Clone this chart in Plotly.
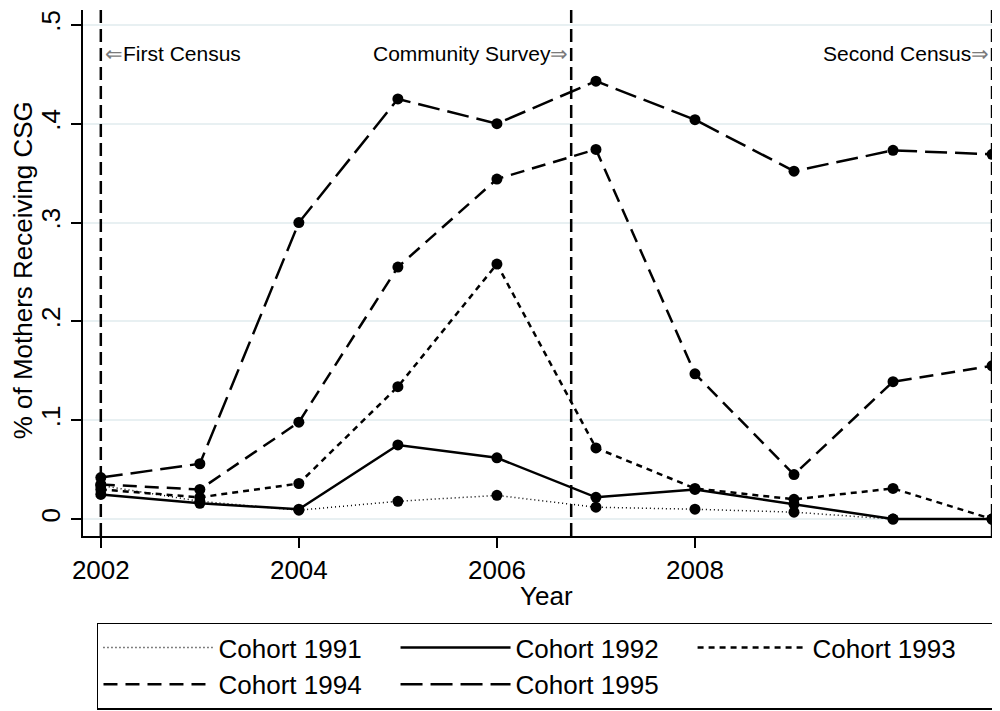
import plotly.graph_objects as go

years = [2002, 2003, 2004, 2005, 2006, 2007, 2008, 2009, 2010, 2011]
cohort_1991 = [0.034, 0.018, 0.009, 0.018, 0.024, 0.012, 0.010, 0.007, 0.0, 0.0]
cohort_1992 = [0.025, 0.016, 0.010, 0.075, 0.062, 0.022, 0.030, 0.015, 0.0, 0.0]
cohort_1993 = [0.030, 0.022, 0.036, 0.134, 0.258, 0.072, 0.031, 0.020, 0.031, 0.0]
cohort_1994 = [0.035, 0.030, 0.098, 0.255, 0.344, 0.374, 0.147, 0.045, 0.139, 0.155]
cohort_1995 = [0.042, 0.056, 0.300, 0.425, 0.400, 0.443, 0.404, 0.352, 0.373, 0.369]

series = [
    ("Cohort 1991", cohort_1991, "1px,3px", 1.5),
    ("Cohort 1992", cohort_1992, "solid", 2.5),
    ("Cohort 1993", cohort_1993, "6px,5px", 2.5),
    ("Cohort 1994", cohort_1994, "14px,8px", 2.5),
    ("Cohort 1995", cohort_1995, "22px,8px", 2.5),
]

event_x = [2002, 2006.75, 2011]
ytick_vals = [0, 0.1, 0.2, 0.3, 0.4, 0.5]
ytick_text = ["0", ".1", ".2", ".3", ".4", ".5"]
xtick_vals = [2002, 2004, 2006, 2008]

FONT = "Liberation Sans, Arial, sans-serif"

fig = go.Figure()
for name, vals, dash, w in series:
    fig.add_trace(go.Scatter(
        x=years, y=vals, mode="lines", name=name, legendgroup=name,
        line=dict(color="black", width=w, dash=dash),
    ))
for name, vals, dash, w in series:
    fig.add_trace(go.Scatter(
        x=years, y=vals, mode="markers", name=name, legendgroup=name,
        showlegend=False, marker=dict(color="black", size=11),
    ))

for xv in event_x:
    fig.add_shape(type="line", xref="x", yref="paper", x0=xv, x1=xv, y0=0.0, y1=1.0,
                  line=dict(color="black", width=2.5, dash="13px,6px"), layer="above")

arrow = "<span style='color:#7a7a7a'>{}</span>"
fig.add_annotation(x=2002, y=0.917, xref="x", yref="paper", xanchor="left", yanchor="middle",
                   text=arrow.format("⇐") + "First Census", showarrow=False, xshift=2,
                   font=dict(family=FONT, size=21, color="black"))
fig.add_annotation(x=2006.75, y=0.917, xref="x", yref="paper", xanchor="right", yanchor="middle",
                   text="Community Survey" + arrow.format("⇒"), showarrow=False, xshift=-1,
                   font=dict(family=FONT, size=21, color="black"))
fig.add_annotation(x=2011, y=0.917, xref="x", yref="paper", xanchor="right", yanchor="middle",
                   text="Second Census" + arrow.format("⇒"), showarrow=False, xshift=-1,
                   font=dict(family=FONT, size=21, color="black"))
fig.add_annotation(x=0.507, y=-0.115, xref="paper", yref="paper", xanchor="center", yanchor="middle",
                   text="Year", showarrow=False, font=dict(family=FONT, size=26, color="black"))
fig.add_annotation(x=0, y=0.505, xref="paper", yref="paper", xanchor="center", yanchor="middle",
                   xshift=-60, textangle=-90, text="% of Mothers Receiving CSG", showarrow=False,
                   font=dict(family=FONT, size=26, color="black"))

fig.update_layout(
    width=992, height=703,
    margin=dict(l=75, r=3, t=2, b=172),
    paper_bgcolor="white", plot_bgcolor="white",
    font=dict(family=FONT, size=26, color="black"),
    xaxis=dict(range=[2001.82, 2011.05], tickvals=xtick_vals, showgrid=False, zeroline=False,
               showline=True, linecolor="black", linewidth=2, ticks="outside", ticklen=10,
               tickwidth=2, tickcolor="black", tickfont=dict(size=26), automargin=False,
               ticklabeloverflow="allow"),
    yaxis=dict(range=[-0.0171, 0.515], tickvals=ytick_vals, ticktext=ytick_text, tickangle=-90,
               showgrid=True, gridcolor="#e8f0f2", gridwidth=2, zeroline=False,
               showline=True, linecolor="black", linewidth=2, ticks="outside", ticklen=10,
               tickwidth=2, tickcolor="black", tickfont=dict(size=26), automargin=False,
               ticklabeloverflow="allow", ticklabelstandoff=1),
    legend=dict(orientation="h", x=0.0153, y=-0.1645, xanchor="left", yanchor="top",
                xref="paper", yref="paper",
                bordercolor="black", borderwidth=1.5, bgcolor="white",
                itemwidth=110, entrywidth=0.325, entrywidthmode="fraction",
                font=dict(family=FONT, size=26, color="black"), traceorder="normal"),
    showlegend=True,
)

fig.write_html("out.html")
